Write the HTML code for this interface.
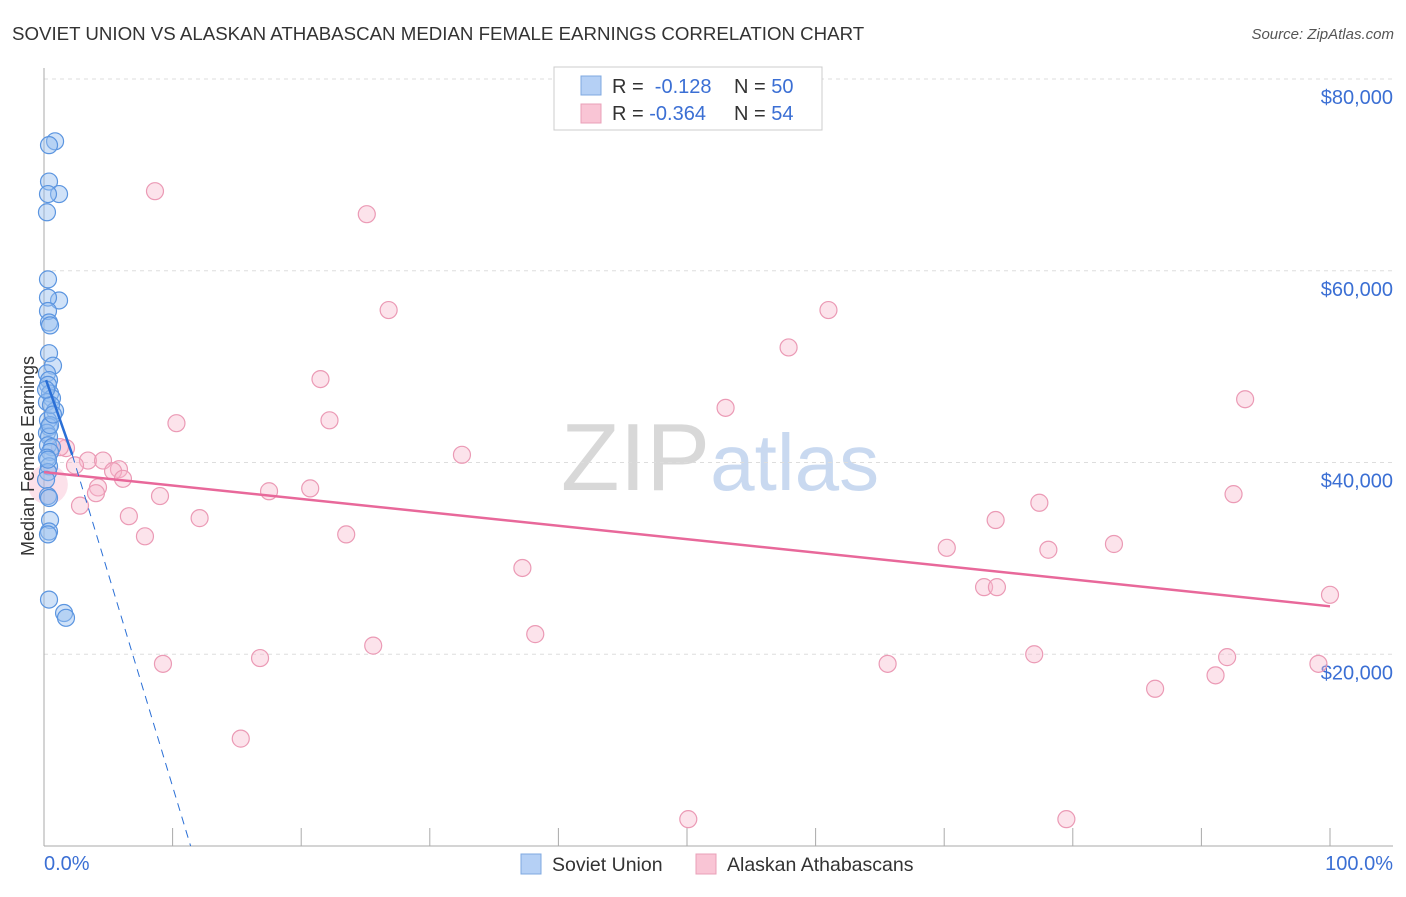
<!DOCTYPE html>
<html><head><meta charset="utf-8"><style>
body{margin:0;background:#fff;font-family:"Liberation Sans",sans-serif}
svg text{font-family:"Liberation Sans",sans-serif}
</style></head><body>
<svg id="chart" width="1406" height="892" xmlns="http://www.w3.org/2000/svg">
<text x="12" y="40" font-size="18.7" fill="#333">SOVIET UNION VS ALASKAN ATHABASCAN MEDIAN FEMALE EARNINGS CORRELATION CHART</text>
<text x="1394" y="39" font-size="15" fill="#555" font-style="italic" text-anchor="end">Source: ZipAtlas.com</text>
<text x="720" y="490" font-size="96" text-anchor="middle" fill="#ddd" font-family="Liberation Serif"><tspan fill="#d8d8d8">ZIP</tspan><tspan fill="#c9d9f0" font-family="Liberation Sans" font-size="80">atlas</tspan></text>
<g id="grid"></g><g id="axes"></g><g id="marks"></g>
<text transform="translate(34,456) rotate(-90)" font-size="18" fill="#333" text-anchor="middle">Median Female Earnings</text>
<text x="44" y="870" font-size="20" fill="#3b6fd4">0.0%</text>
<text x="1393" y="870" font-size="20" fill="#3b6fd4" text-anchor="end">100.0%</text>
<g>
<rect x="554" y="67" width="268" height="63" fill="#fff" stroke="#ccc"/>
<rect x="581" y="76" width="20" height="19" fill="#b5d0f5" stroke="#7fa8e0"/>
<rect x="581" y="104" width="20" height="19" fill="#f9c5d5" stroke="#e9a0b8"/>
<text x="612" y="93" font-size="20" fill="#333">R = <tspan fill="#3b6fd4">&#160;-0.128</tspan><tspan x="734">N = </tspan><tspan fill="#3b6fd4">50</tspan></text>
<text x="612" y="120" font-size="20" fill="#333">R = <tspan fill="#3b6fd4">-0.364</tspan><tspan x="734">N = </tspan><tspan fill="#3b6fd4">54</tspan></text>
</g>
<g>
<rect x="521" y="854" width="20" height="20" fill="#b5d0f5" stroke="#7fa8e0"/>
<text x="552" y="871" font-size="19.5" fill="#333">Soviet Union</text>
<rect x="696" y="854" width="20" height="20" fill="#f9c5d5" stroke="#e9a0b8"/>
<text x="727" y="871" font-size="19.5" fill="#333">Alaskan Athabascans</text>
</g>
</svg>
<script>
const yTicks=[20000,40000,60000,80000];
const yTickLabels=["$20,000","$40,000","$60,000","$80,000"];
const xTicks=[10,20,30,40,50,60,70,80,90,100];
const sovietX=[0.86,0.39,0.39,1.17,0.31,0.23,0.31,1.17,0.31,0.31,0.39,0.47,0.39,0.7,0.23,0.39,0.31,0.47,0.62,0.23,0.86,0.31,0.39,0.23,0.39,0.31,0.62,0.47,0.23,0.39,0.31,0.16,0.31,0.39,0.47,0.39,0.31,0.39,1.56,1.71,0.54,0.16,0.31,0.47,0.7];
const sovietY=[73.5,73.1,69.3,68.0,68.0,66.1,59.1,56.9,57.2,55.8,54.6,54.3,51.4,50.1,49.3,48.6,48.1,47.2,46.7,46.3,45.4,44.4,43.7,43.1,42.7,41.8,41.6,41.1,40.5,39.6,39.0,38.2,36.5,36.3,34.0,32.8,32.5,25.7,24.3,23.8,46.0,47.6,40.3,43.9,45.0];
const athX=[8.63,25.1,26.8,61.0,57.9,21.5,93.4,53.0,10.3,22.2,32.5,1.71,1.24,3.42,2.41,4.59,5.83,5.37,6.14,4.2,4.04,9.02,17.5,20.7,92.5,2.8,6.6,12.1,77.4,74.0,7.85,23.5,70.2,78.1,83.2,37.2,73.1,74.1,100.0,38.2,25.6,9.25,16.8,65.6,77.0,92.0,99.1,86.4,91.1,15.3,50.1,79.5];
const athY=[68.3,65.9,55.9,55.9,52.0,48.7,46.6,45.7,44.1,44.4,40.8,41.5,41.6,40.2,39.7,40.2,39.3,39.1,38.3,37.4,36.8,36.5,37.0,37.3,36.7,35.5,34.4,34.2,35.8,34.0,32.3,32.5,31.1,30.9,31.5,29.0,27.0,27.0,26.2,22.1,20.9,19.0,19.6,19.0,20.0,19.7,19.0,16.4,17.8,11.2,2.8,2.8];
const sovietTrend=[[0.16,48.6],[2.2,40.8]];
const sovietTrendExt=[[2.2,40.8],[11.4,0]];
const athTrend=[[0,39.0],[100,25.0]];
const NS="http://www.w3.org/2000/svg";
const X0=44,X1=1330,Y0=846,PXK=9.5875;
function xs(v){return X0+(X1-X0)*v/100;}
function ys(k){return Y0-k*PXK;}
function mk(t,a,p){const e=document.createElementNS(NS,t);for(const k in a)e.setAttribute(k,a[k]);document.getElementById(p).appendChild(e);return e;}
yTicks.forEach((v,i)=>{
 const y=ys(v/1000);
 const g=mk('line',{x1:44,x2:1393,y1:y,y2:y,stroke:'#ddd','stroke-dasharray':'4,4'},'grid');
 
 
 const t=mk('text',{x:1393,y:y+25,'font-size':20,fill:'#3b6fd4','text-anchor':'end'},'grid');
 
 
 t.textContent=yTickLabels[i];
});
const ax=mk('line',{x1:44,x2:44,y1:68,y2:846,stroke:'#aaa'},'axes');


const bx=mk('line',{x1:44,x2:1393,y1:846,y2:846,stroke:'#aaa'},'axes');


xTicks.forEach(v=>{
 const l=mk('line',{x1:xs(v),x2:xs(v),y1:828,y2:846,stroke:'#aaa'},'axes');
 
 
});
const big=mk('circle',{cx:xs(0.3),cy:ys(37.7),r:20,fill:'rgba(245,170,195,0.35)',stroke:'none'},'marks');


athX.forEach((x,i)=>{
 const c=mk('circle',{cx:xs(x),cy:ys(athY[i]),r:8.5,fill:'rgba(248,185,205,0.4)',stroke:'#eb9ab5','stroke-width':1.2},'marks');
 
 
});
sovietX.forEach((x,i)=>{
 const c=mk('circle',{cx:xs(x),cy:ys(sovietY[i]),r:8.5,fill:'rgba(150,190,240,0.45)',stroke:'#5b95e0','stroke-width':1.2},'marks');
 
 
});
const pt=mk('line',{x1:xs(athTrend[0][0]),y1:ys(athTrend[0][1]),x2:xs(athTrend[1][0]),y2:ys(athTrend[1][1]),stroke:'#e8689a','stroke-width':2.5},'marks');


const st=mk('line',{x1:xs(sovietTrend[0][0]),y1:ys(sovietTrend[0][1]),x2:xs(sovietTrend[1][0]),y2:ys(sovietTrend[1][1]),stroke:'#2a6fd6','stroke-width':2.5},'marks');


const sd=mk('line',{x1:xs(sovietTrendExt[0][0]),y1:ys(sovietTrendExt[0][1]),x2:xs(sovietTrendExt[1][0]),y2:ys(sovietTrendExt[1][1]),stroke:'#2a6fd6','stroke-width':1,'stroke-dasharray':'8,6'},'marks');


</script>
</body></html>
